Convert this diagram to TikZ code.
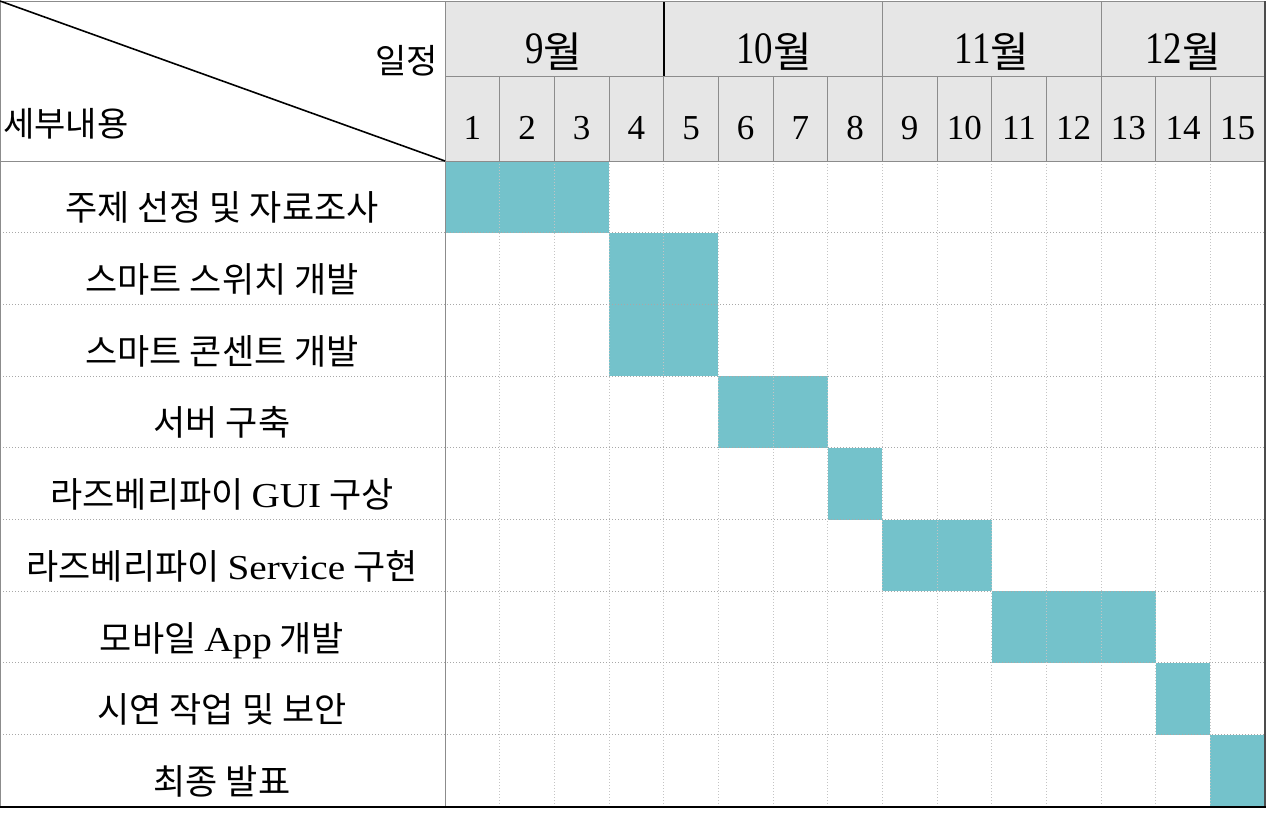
\documentclass[tikz,border=0pt]{standalone}
\usepackage{fontspec}
\setmainfont{Liberation Serif}
\newfontfamily\kr{Noto Sans CJK KR}
\newfontfamily\monthnum[FakeStretch=0.82]{Liberation Serif}
\newfontfamily\lat[FakeStretch=1.12]{Liberation Serif}
\definecolor{hdrfill}{HTML}{E6E6E6}
\definecolor{barfill}{HTML}{74C2CB}
\definecolor{hdrline}{HTML}{8C8C8C}
\definecolor{dotv}{HTML}{C4C4C4}
\definecolor{doth}{HTML}{A8A8A8}
\tikzset{
  lbl/.style={anchor=base, inner sep=0pt, font=\kr\fontsize{35}{40}\selectfont},
  wk/.style={anchor=base, inner sep=0pt, font=\fontsize{35}{40}\selectfont},
  mon/.style={anchor=base, inner sep=0pt, font=\fontsize{45}{48}\selectfont},
  corner/.style={inner sep=0pt, font=\kr\fontsize{34}{38}\selectfont},
  hline/.style={draw=hdrline, line width=1pt},
  bodyv/.style={draw=dotv, line width=1pt, dotted},
  bodyh/.style={draw=doth, line width=1pt, dotted},
}
\newcommand{\mon}[1]{{\monthnum #1}{\kr\fontsize{42}{44}\selectfont\raisebox{-4pt}{월}}}
\begin{document}
\begin{tikzpicture}[x=1pt,y=-1pt]
\useasboundingbox (0,0) rectangle (1268,819);
\fill[white] (0,0) rectangle (1268,819);
% header fill
\fill[hdrfill] (445,1) rectangle (1265,161);
% bars
\foreach \r/\s/\e in {1/1/3, 2/4/5, 3/4/5, 4/6/7, 5/8/8, 6/9/10, 7/11/13, 8/14/14, 9/15/15}
  \fill[barfill] ({445+(\s-1)*54.667},{161+(\r-1)*71.7}) rectangle ({445+\e*54.667},{161+\r*71.7});
% body dotted grid
\foreach \k in {1,...,14}
  \draw[bodyv] ({445+\k*54.667},161) -- ({445+\k*54.667},807);
\foreach \r in {1,...,8}
  \draw[bodyh] (0,{161+\r*71.7}) -- (1265,{161+\r*71.7});
% header lines
\foreach \k in {1,...,14}
  \draw[hline] ({445+\k*54.667},76) -- ({445+\k*54.667},161);
\draw[hline] ({445+8*54.667},1) -- ({445+8*54.667},76);
\draw[hline] ({445+12*54.667},1) -- ({445+12*54.667},76);
\draw[black, line width=2pt] ({445+4*54.667},1) -- ({445+4*54.667},76);
\draw[hline] (445,76) -- (1265,76);
\draw[hline] (0,161) -- (1265,161);
\draw[hline] (0,1) -- (1265,1);
\draw[hline] (0.5,1) -- (0.5,807);
\draw[hline] (445,1) -- (445,807);
\draw[draw=black!70, line width=1.2pt] (1265,1) -- (1265,807);
\draw[black, line width=2.5pt] (0,807) -- (1266,807);
% diagonal
\draw[black, line width=1.6pt] (0,1) -- (445,161);
% corner texts
\node[corner, anchor=base east] (sched) at (438,73) {일정};
\node[corner, anchor=base west] (detail) at (3,136) {세부내용};
% months
\node[mon] (m9) at (554,63) {\mon{9}};
\node[mon] (m10) at (774,63) {\mon{10}};
\node[mon] (m11) at (992,63) {\mon{11}};
\node[mon] (m12) at (1183,63) {\mon{12}};
% weeks
\foreach \k in {1,...,15}
  \node[wk] (wk\k) at ({445+(\k-0.5)*54.667},139) {\k};
% task labels
\foreach \r/\txt in {1/{주제 선정 및 자료조사}, 2/{스마트 스위치 개발}, 3/{스마트 콘센트 개발}, 4/{서버 구축}, 5/{라즈베리파이 {\lat GUI} 구상}, 6/{라즈베리파이 {\lat Service} 구현}, 7/{모바일 {\lat App} 개발}, 8/{시연 작업 및 보안}, 9/{최종 발표}}
  \node[lbl] (task\r) at (222,{161+(\r-0.5)*71.7+24}) {\txt};
\end{tikzpicture}
\end{document}
